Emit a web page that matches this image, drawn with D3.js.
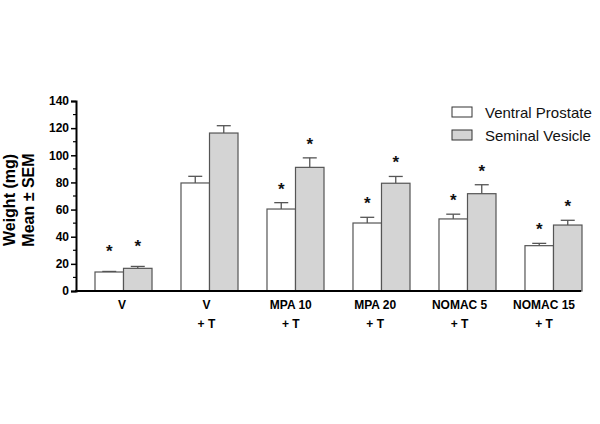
<!DOCTYPE html>
<html>
<head>
  <meta charset="utf-8">
  <title>weights</title>
  <script src="https://cdnjs.cloudflare.com/ajax/libs/d3/7.8.5/d3.min.js"></script>
  <style>
    body { margin: 0; background: #fff; }
    text { font-family: "Liberation Sans", Arial, sans-serif; }
  </style>
</head>
<body>
<script>
var width = 600, height = 424;

// data
var groups   = ["V", "V + T", "MPA 10 + T", "MPA 20 + T", "NOMAC 5 + T", "NOMAC 15 + T"];
var line1    = ["V", "V", "MPA 10", "MPA 20", "NOMAC 5", "NOMAC 15"];
var line2    = ["", "+ T", "+ T", "+ T", "+ T", "+ T"];
var series   = ["Ventral Prostate", "Seminal Vesicle"];
var prostate = [14, 79.6, 60.4, 50.1, 53.1, 33.4];
var prostErr = [0.4, 4.9, 4.7, 4.2, 3.5, 1.7];
var vesicle  = [16.7, 116.4, 91.1, 79.4, 71.7, 48.6];
var vesErr   = [1.4, 5.4, 7.0, 5.0, 6.6, 3.5];
var starP    = [true, false, true, true, true, true];
var starV    = [true, false, true, true, true, true];
var yTicks   = [0, 20, 40, 60, 80, 100, 120, 140];

var fills = ["#ffffff", "#d4d4d4"];

var svg = d3.select("body").append("svg").attr("width", width).attr("height", height);

var y = d3.scaleLinear().domain([0, 140]).range([291, 101]);
var x0 = d3.scaleBand().domain(groups).range([95, 582]).paddingInner(0.337).paddingOuter(0);
var x1 = d3.scaleBand().domain(series).range([0, x0.bandwidth()]);
var xl = d3.scalePoint().domain(groups).range([122, 544]);

var rows = groups.map(function(g, i) {
  return [
    {g: g, s: series[0], v: prostate[i], e: prostErr[i], star: starP[i]},
    {g: g, s: series[1], v: vesicle[i], e: vesErr[i], star: starV[i]}
  ];
});

var gs = svg.selectAll("g.grp").data(rows).enter().append("g")
  .attr("class", "grp")
  .attr("transform", function(d, i) { return "translate(" + x0(groups[i]) + ",0)"; });

var bars = gs.selectAll("g.bar").data(function(d) { return d; }).enter().append("g");

// error bars (upper only)
bars.append("line")
  .attr("x1", function(d) { return x1(d.s) + x1.bandwidth() / 2; })
  .attr("x2", function(d) { return x1(d.s) + x1.bandwidth() / 2; })
  .attr("y1", function(d) { return y(d.v); })
  .attr("y2", function(d) { return y(d.v + d.e); })
  .attr("stroke", "#555").attr("stroke-width", 1.3);
bars.append("line")
  .attr("x1", function(d) { return x1(d.s) + x1.bandwidth() / 2 - 7; })
  .attr("x2", function(d) { return x1(d.s) + x1.bandwidth() / 2 + 7; })
  .attr("y1", function(d) { return y(d.v + d.e); })
  .attr("y2", function(d) { return y(d.v + d.e); })
  .attr("stroke", "#555").attr("stroke-width", 1.3);

bars.append("rect")
  .attr("x", function(d) { return x1(d.s); })
  .attr("y", function(d) { return y(d.v); })
  .attr("width", x1.bandwidth())
  .attr("height", function(d) { return y(0) - y(d.v); })
  .attr("fill", function(d) { return fills[series.indexOf(d.s)]; })
  .attr("stroke", "#555").attr("stroke-width", 1.2);

bars.filter(function(d) { return d.star; }).append("text")
  .attr("x", function(d) { return x1(d.s) + x1.bandwidth() / 2; })
  .attr("y", function(d) { return y(d.v + d.e) - (d.v < 20 ? 14 : 8); })
  .attr("text-anchor", "middle")
  .attr("font-size", 17).attr("font-weight", "bold").attr("fill", "#111")
  .text("*");

// y axis
var minor = d3.range(10, 140, 20);
svg.selectAll("line.minor").data(minor).enter().append("line")
  .attr("x1", 73).attr("x2", 76)
  .attr("y1", function(d) { return y(d); }).attr("y2", function(d) { return y(d); })
  .attr("stroke", "#000").attr("stroke-width", 1.2);

var yAxis = svg.append("g").attr("transform", "translate(76,0)")
  .call(d3.axisLeft(y).tickValues(yTicks).tickSize(5).tickPadding(2));
yAxis.select(".domain").attr("stroke-width", 2);
yAxis.selectAll(".tick line").attr("stroke-width", 1.5);
yAxis.selectAll("text").attr("font-size", 12).attr("font-weight", "bold")
  .attr("font-family", "'Liberation Sans', Arial, sans-serif").attr("fill", "#000");

// x axis line
svg.append("line").attr("x1", 75).attr("x2", 581)
  .attr("y1", y(0)).attr("y2", y(0))
  .attr("stroke", "#000").attr("stroke-width", 2.2);

svg.selectAll("text.xl1").data(groups).enter().append("text")
  .attr("x", function(d) { return xl(d); }).attr("y", 309)
  .attr("text-anchor", "middle").attr("font-size", 12).attr("font-weight", "bold")
  .text(function(d, i) { return line1[i]; });
svg.selectAll("text.xl2").data(groups).enter().append("text")
  .attr("x", function(d) { return xl(d); }).attr("y", 328)
  .attr("text-anchor", "middle").attr("font-size", 12).attr("font-weight", "bold")
  .text(function(d, i) { return line2[i]; });

// y label
var yl = svg.append("text")
  .attr("transform", "translate(0,200) rotate(-90)")
  .attr("text-anchor", "middle").attr("font-size", 16).attr("font-weight", "bold");
yl.append("tspan").attr("x", 0).attr("y", 15).text("Weight (mg)");
yl.append("tspan").attr("x", 0).attr("y", 34).text("Mean \u00b1 SEM");

// legend
var leg = svg.selectAll("g.leg").data(series).enter().append("g")
  .attr("transform", function(d, i) { return "translate(452," + (107 + i * 23) + ")"; });
leg.append("rect").attr("width", 20).attr("height", 10)
  .attr("fill", function(d, i) { return fills[i]; })
  .attr("stroke", "#333").attr("stroke-width", 1);
leg.append("text").attr("x", 33).attr("y", 10.5)
  .attr("font-size", 15).attr("fill", "#111")
  .text(function(d) { return d; });
</script>
</body>
</html>
